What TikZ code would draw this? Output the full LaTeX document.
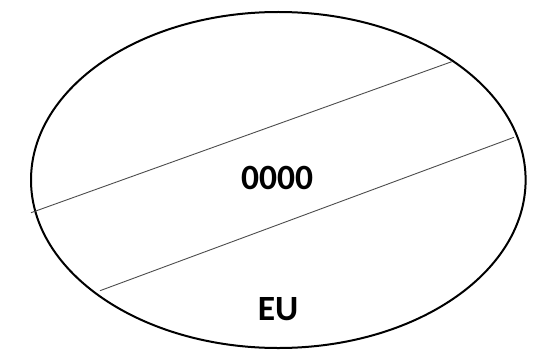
\documentclass[tikz,border=0pt]{standalone}
\usepackage{fontspec}
\setmainfont{Carlito}
\usetikzlibrary{shapes.geometric}
\begin{document}
\begin{tikzpicture}[x=1pt,y=-1pt,
  label/.style={font=\fontsize{35.5}{40}\selectfont\bfseries, anchor=base, inner sep=0pt},
  band/.style={draw=black!70, line width=0.9pt},
  rim/.style={draw=black, line width=2pt, ellipse, minimum width=494.6pt, minimum height=336pt, inner sep=0pt}]
\useasboundingbox (0,0) rectangle (534,350);
\node[rim] (oval) at (278.3,180) {};
\coordinate (a1) at (31,212.7);
\coordinate (a2) at (451.7,61.7);
\coordinate (b1) at (100,290.7);
\coordinate (b2) at (514,137.3);
\draw[band] (a1) -- (a2);
\draw[band] (b1) -- (b2);
\node[label] (num) at (277,189) {0000};
\node[label] (eu) at (278,320) {EU};
\end{tikzpicture}
\end{document}
